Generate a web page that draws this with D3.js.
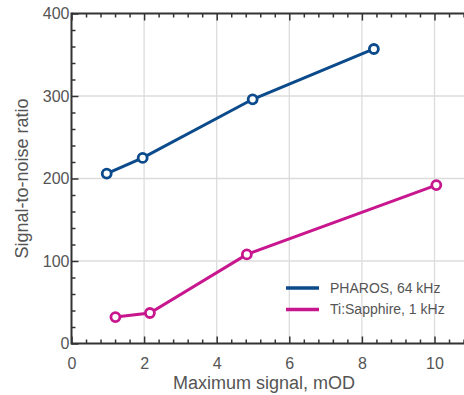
<!DOCTYPE html>
<html>
<head>
<meta charset="utf-8">
<script src="https://cdn.jsdelivr.net/npm/d3@7"></script>
<style>
  body { margin: 0; background: #fff; }
  svg { display: block; font-family: "Liberation Sans", Arial, sans-serif; }
</style>
</head>
<body>
<div id="chart"></div>
<script>
// Data
const seriesNames = ["PHAROS, 64 kHz", "Ti:Sapphire, 1 kHz"];
const seriesColors = ["#0b4a8b", "#c8168e"];
const pharosX = [0.97, 1.96, 4.99, 8.33];
const pharosY = [206, 225, 296, 357];
const tisaphX = [1.21, 2.16, 4.83, 10.05];
const tisaphY = [32, 37, 108, 192];
const xTicks = [0, 2, 4, 6, 8, 10];
const yTicks = [0, 100, 200, 300, 400];

const series = [
  { name: seriesNames[0], color: seriesColors[0], points: pharosX.map((x, i) => ({ x, y: pharosY[i] })) },
  { name: seriesNames[1], color: seriesColors[1], points: tisaphX.map((x, i) => ({ x, y: tisaphY[i] })) }
];

// Set up dimensions
const W = 464, H = 395;
const margin = { top: 13.5, left: 71.5 };
const plotH = 330;
const unitX = 36.3;

const svg = d3.select("#chart").append("svg").attr("width", W).attr("height", H);

// Scales (x axis runs past the right edge, as in the reference)
const x = d3.scaleLinear().domain([0, 11]).range([margin.left, margin.left + unitX * 11]);
const y = d3.scaleLinear().domain([0, 400]).range([margin.top + plotH, margin.top]);

const axisColor = "#333";
const textColor = "#555";
const gridColor = "#dcdcdc";

// Gridlines
svg.append("g").selectAll("line.gx")
  .data(xTicks.filter(d => d > 0))
  .enter().append("line")
  .attr("x1", d => x(d)).attr("x2", d => x(d))
  .attr("y1", y(400)).attr("y2", y(0))
  .style("stroke", gridColor).style("stroke-width", 1.3);

svg.append("g").selectAll("line.gy")
  .data(yTicks.filter(d => d > 0 && d < 400))
  .enter().append("line")
  .attr("x1", x(0)).attr("x2", W)
  .attr("y1", d => y(d)).attr("y2", d => y(d))
  .style("stroke", gridColor).style("stroke-width", 1.3);

// Axes: ticks pointing inward, minor and major
const xMinor = d3.range(0, 11.01, 0.4).filter(v => Math.abs(v / 2 - Math.round(v / 2)) > 0.01);
const yMinor = d3.range(0, 401, 20).filter(v => v % 100 !== 0);

function styleAxis(g) {
  g.select(".domain").remove();
  g.selectAll("line").style("stroke", axisColor).style("stroke-width", 1.5);
  g.selectAll("text").style("fill", textColor).style("font-size", "16px");
}

// bottom
svg.append("g").attr("transform", `translate(0,${y(0)})`)
  .call(d3.axisBottom(x).tickValues(xMinor).tickSize(-4).tickFormat(""))
  .call(styleAxis);
svg.append("g").attr("transform", `translate(0,${y(0)})`)
  .call(d3.axisBottom(x).tickValues(xTicks).tickSize(-7).tickPadding(14).tickFormat(d3.format("d")))
  .call(styleAxis);

// top
svg.append("g").attr("transform", `translate(0,${y(400)})`)
  .call(d3.axisTop(x).tickValues(xMinor).tickSize(-4).tickFormat(""))
  .call(styleAxis);
svg.append("g").attr("transform", `translate(0,${y(400)})`)
  .call(d3.axisTop(x).tickValues(xTicks).tickSize(-7).tickFormat(""))
  .call(styleAxis);

// left
svg.append("g").attr("transform", `translate(${x(0)},0)`)
  .call(d3.axisLeft(y).tickValues(yMinor).tickSize(-4).tickFormat(""))
  .call(styleAxis);
svg.append("g").attr("transform", `translate(${x(0)},0)`)
  .call(d3.axisLeft(y).tickValues(yTicks).tickSize(-7).tickPadding(2).tickFormat(d3.format("d")))
  .call(styleAxis);

// Axis lines
svg.append("line")
  .attr("x1", x(0)).attr("x2", W).attr("y1", y(0)).attr("y2", y(0))
  .style("stroke", axisColor).style("stroke-width", 2);
svg.append("line")
  .attr("x1", x(0)).attr("x2", W).attr("y1", y(400)).attr("y2", y(400))
  .style("stroke", axisColor).style("stroke-width", 2);
svg.append("line")
  .attr("x1", x(0)).attr("x2", x(0)).attr("y1", y(400) - 1).attr("y2", y(0) + 1)
  .style("stroke", axisColor).style("stroke-width", 2);

// Axis labels
svg.append("text")
  .attr("x", 264)
  .attr("y", 389)
  .style("text-anchor", "middle")
  .style("font-size", "18px")
  .style("fill", textColor)
  .text("Maximum signal, mOD");

svg.append("text")
  .attr("transform", "rotate(-90)")
  .attr("x", -(y(200)))
  .attr("y", 28)
  .style("text-anchor", "middle")
  .style("font-size", "18px")
  .style("fill", textColor)
  .text("Signal-to-noise ratio");

// Lines and markers
const line = d3.line().x(d => x(d.x)).y(d => y(d.y));

series.forEach(s => {
  svg.append("path")
    .datum(s.points)
    .attr("d", line)
    .style("fill", "none")
    .style("stroke", s.color)
    .style("stroke-width", 3);

  svg.append("g").selectAll("circle")
    .data(s.points)
    .enter().append("circle")
    .attr("cx", d => x(d.x))
    .attr("cy", d => y(d.y))
    .attr("r", 4.5)
    .style("fill", "#fff")
    .style("stroke", s.color)
    .style("stroke-width", 2.8);
});

// Legend
const legend = svg.append("g").attr("transform", "translate(286, 288)");
series.forEach((s, i) => {
  legend.append("line")
    .attr("x1", 0).attr("x2", 33)
    .attr("y1", i * 21.5).attr("y2", i * 21.5)
    .style("stroke", s.color)
    .style("stroke-width", 3.5);
  legend.append("text")
    .attr("x", 44)
    .attr("y", i * 21.5)
    .attr("dy", "0.35em")
    .style("font-size", "14px")
    .style("fill", textColor)
    .text(s.name);
});
</script>
</body>
</html>
